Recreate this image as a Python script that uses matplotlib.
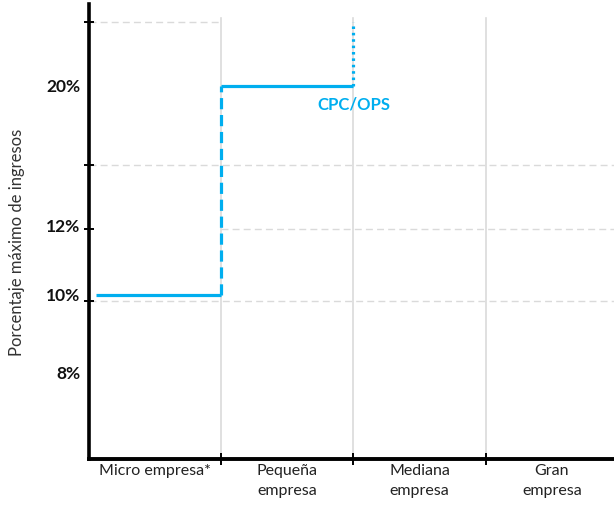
import numpy as np
import matplotlib
matplotlib.use("Agg")
import matplotlib.pyplot as plt
from matplotlib import transforms

plt.rcParams['font.family'] = ['Lato', 'DejaVu Sans']

# ---- data ----
categories = ["Micro empresa*", "Pequeña\nempresa", "Mediana\nempresa", "Gran\nempresa"]
max_pct = [10, 20]                 # Micro, Pequeña (Mediana: open-ended)
ytick_labels = [8, 10, 12, 20]
series_label = "CPC/OPS"
grid_full = [9.85, 15.5]           # dashed guides across the whole width
grid_right = [11.9]                # guide from Pequeña onwards
grid_left = [23.1]                 # guide over Micro only

# schematic (non-linear) value axis
PCT = [6, 8, 10, 12, 20, 24]
POS = [0, 86, 164, 233, 373, 455]
fwd = lambda p: np.interp(p, PCT, POS)
inv = lambda h: np.interp(h, POS, PCT)

BLUE = "#00AEEF"
GRID = "#DADADA"

fig = plt.figure(figsize=(6.14, 5.06), dpi=100)
ax = fig.add_axes([89/614, 46/506, 525/614, 455/506])
ax.set_yscale('function', functions=(fwd, inv))
ax.set_xlim(0, 3.97)
ax.set_ylim(6, 24)

# spines
for s in ['top', 'right']:
    ax.spines[s].set_visible(False)
ax.spines['left'].set_linewidth(2.6)
ax.spines['bottom'].set_linewidth(2.8)

# vertical separators
for xb in [1, 2, 3]:
    ax.plot([xb, xb], [6, 23.3], color=GRID, lw=1.2, zorder=1)

# dashed guides
for g in grid_full:
    ax.plot([0, 3.97], [g, g], color=GRID, lw=1.0, ls=(0, (5, 3)), zorder=1)
for g in grid_right:
    ax.plot([1, 3.97], [g, g], color=GRID, lw=1.0, ls=(0, (5, 3)), zorder=1)
for g in grid_left:
    ax.plot([0, 1], [g, g], color=GRID, lw=1.0, ls=(0, (5, 3)), zorder=1)

# ticks
ax.set_xticks([1, 2, 3])
ax.set_xticklabels([])
ax.tick_params(axis='x', direction='inout', length=9, width=1.4, color='black')
ax.set_yticks(sorted(grid_full + grid_right + grid_left))
ax.set_yticklabels([])
ax.tick_params(axis='y', direction='inout', length=7, width=1.4, color='black')
ax.yaxis.set_minor_locator(matplotlib.ticker.NullLocator())

# series
ax.plot([0.05, 1], [max_pct[0], max_pct[0]], color=BLUE, lw=2.3, solid_capstyle='butt', zorder=3)
ax.plot([1, 1], [max_pct[0], max_pct[1]], color=BLUE, lw=2.3, ls=(0, (3.5, 1.8)), zorder=3)
ax.plot([1, 2], [max_pct[1], max_pct[1]], color=BLUE, lw=2.3, solid_capstyle='butt', zorder=3)
ax.plot([2, 2], [max_pct[1], 23.1], color=BLUE, lw=2.3, ls=(0, (0.8, 1.2)), zorder=3)

ax.annotate(series_label, xy=(2, max_pct[1]), xytext=(0, -18), textcoords='offset pixels',
            ha='center', va='center', color=BLUE, fontsize=12, fontweight='bold')

# y labels
trans = transforms.blended_transform_factory(ax.transAxes, ax.transData)
for v in ytick_labels:
    ax.text(-0.017, v, f"{v}%", transform=trans, ha='right', va='center',
            fontsize=12.5, fontweight='bold', color='#111111')

# category labels
for i, c in enumerate(categories):
    ax.text(i + 0.5, -0.008, c, transform=transforms.blended_transform_factory(ax.transData, ax.transAxes),
            ha='center', va='top', fontsize=11.5, color='#222222', linespacing=1.55)

fig.text(17/614, 1 - 242/506, "Porcentaje máximo de ingresos", rotation=90,
         ha='center', va='center', fontsize=12, color='#333333')

fig.savefig("out.png", dpi=100)
